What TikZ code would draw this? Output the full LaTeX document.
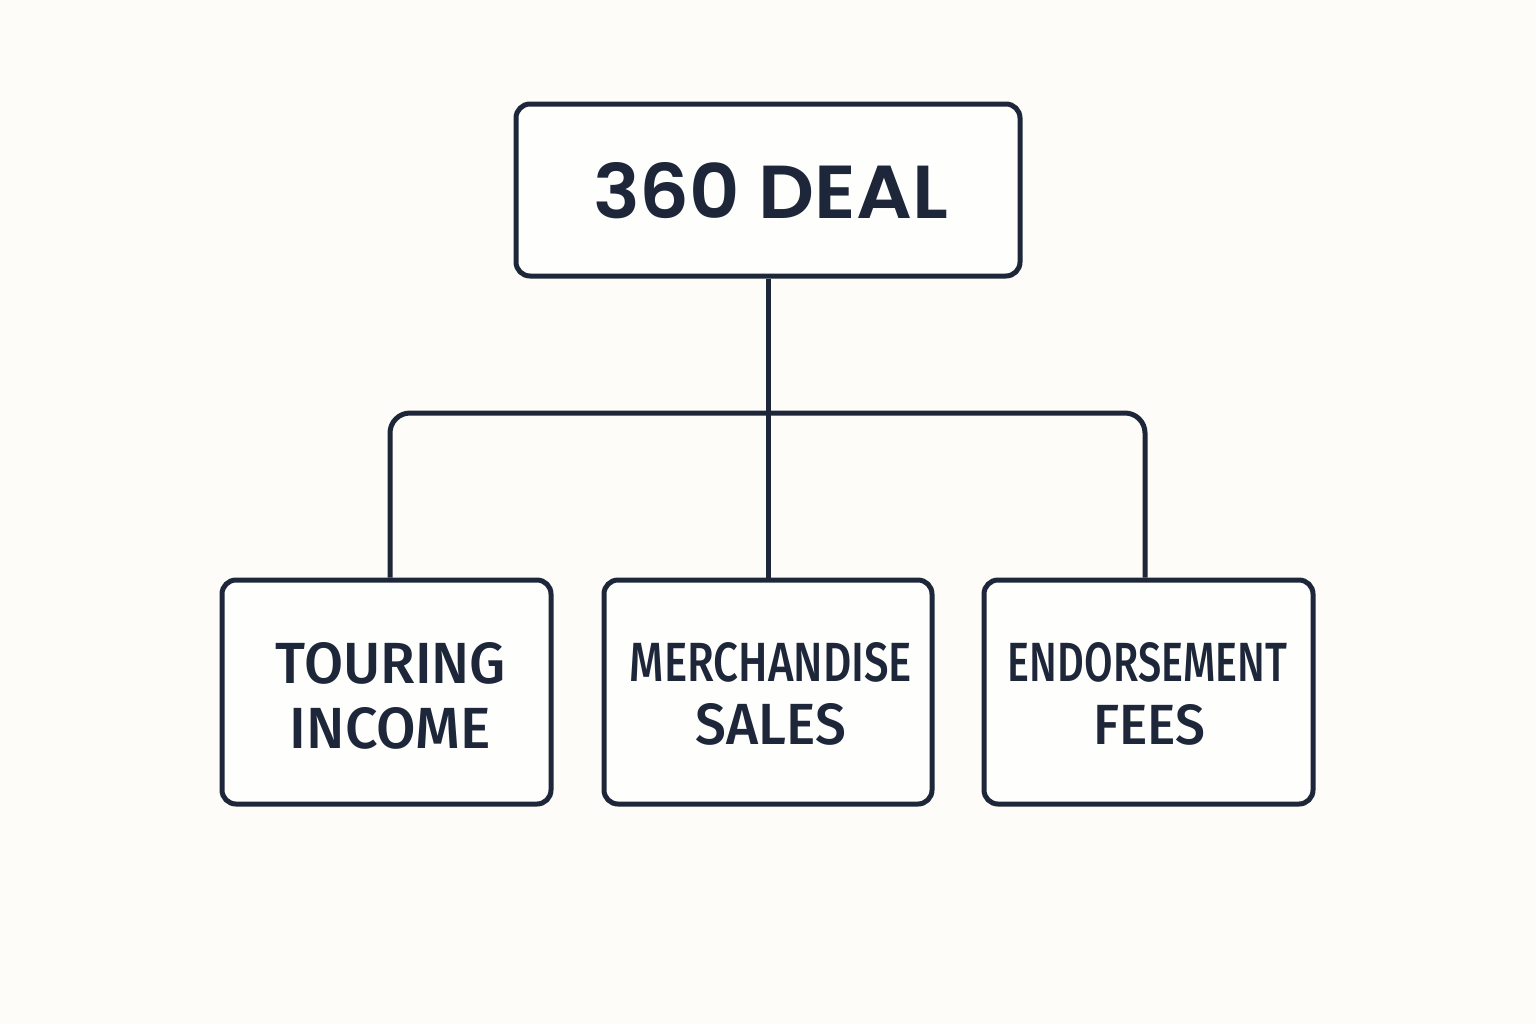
\documentclass[tikz,border=0pt]{standalone}
\usepackage{fontspec}
\usepackage{graphicx}
\newfontfamily\topfont{Poppins SemiBold}
\newfontfamily\boxfont{Fira Sans Medium}
\definecolor{ink}{HTML}{1E2739}
\definecolor{paper}{HTML}{FDFCF8}
\newcommand{\fitw}[3]{\resizebox{#1}{#2}{#3}}
\begin{document}
\begin{tikzpicture}[x=0.5pt,y=-0.5pt,
  box/.style={draw=ink,line width=2.5pt,rounded corners=7pt,fill=white!60!paper,inner sep=0pt},
  link/.style={draw=ink,line width=2.5pt}]
\fill[paper] (0,0) rectangle (1536,1024);
\useasboundingbox (0,0) rectangle (1536,1024);
\node[box,minimum width=252pt,minimum height=86pt] (deal) at (768,190) {};
\node[text=ink] (dealtxt) at (770.5,190.5) {\topfont\fitw{177.5pt}{28pt}{360 DEAL}};
\node[box,minimum width=164.5pt,minimum height=112pt] (tour) at (386.5,692) {};
\node[box,minimum width=164pt,minimum height=112pt] (merch) at (768,692) {};
\node[box,minimum width=164.5pt,minimum height=112pt] (endo) at (1148.5,692) {};
\node[text=ink,anchor=base,inner sep=0pt] (t1) at (391,683) {\boxfont\fitw{115pt}{20.5pt}{TOURING}};
\node[text=ink,anchor=base,inner sep=0pt] (t2) at (390.5,748) {\boxfont\fitw{100.5pt}{20.5pt}{INCOME}};
\node[text=ink,anchor=base,inner sep=0pt] (m1) at (771,681) {\boxfont\fitw{141pt}{19.5pt}{MERCHANDISE}};
\node[text=ink,anchor=base,inner sep=0pt] (m2) at (771,744) {\boxfont\fitw{75pt}{20.5pt}{SALES}};
\node[text=ink,anchor=base,inner sep=0pt] (e1) at (1147.5,681) {\boxfont\fitw{139.5pt}{19.5pt}{ENDORSEMENT}};
\node[text=ink,anchor=base,inner sep=0pt] (e2) at (1149,744) {\boxfont\fitw{56pt}{20pt}{FEES}};
\coordinate (bus) at (768,413);
\draw[link] (deal.south) -- (merch.north);
\draw[link,rounded corners=10pt] ([xshift=1.75pt]tour.north) -- ([xshift=1.75pt]tour.north |- bus) -- ([xshift=-1.75pt]endo.north |- bus) -- ([xshift=-1.75pt]endo.north);
\end{tikzpicture}
\end{document}
